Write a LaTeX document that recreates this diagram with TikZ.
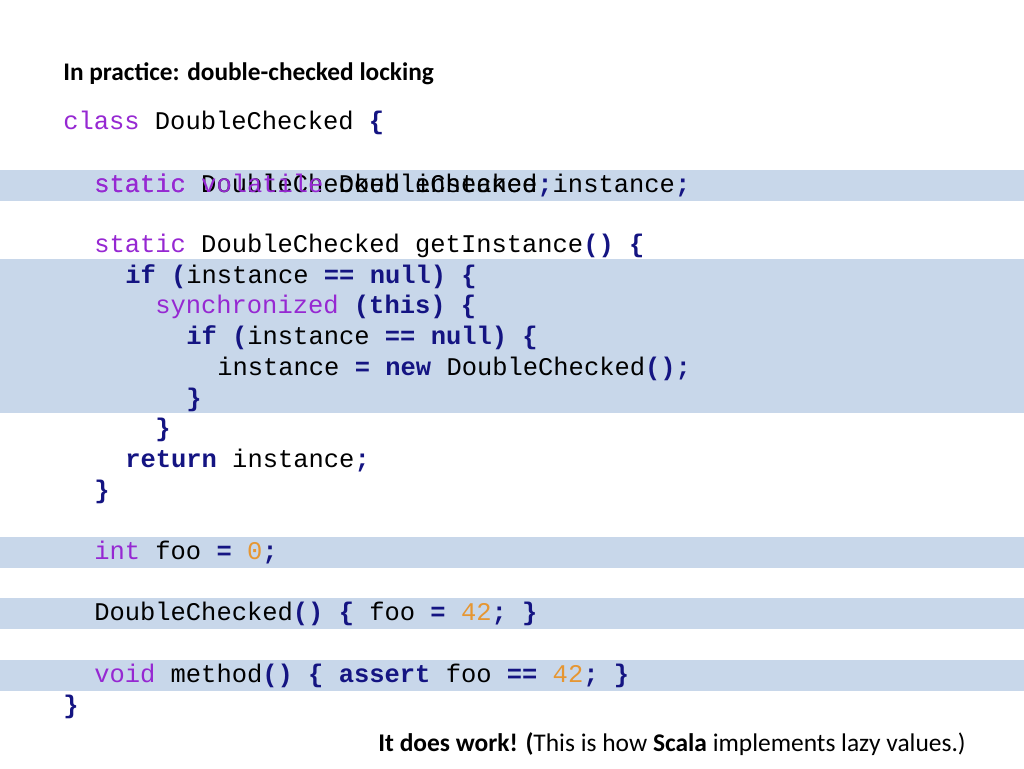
\documentclass[tikz,border=0pt]{standalone}
\usepackage{fontspec}
\setmainfont{Carlito}
\newfontfamily\code{Liberation Mono}
\definecolor{kwc}{RGB}{150,40,210}
\definecolor{bkc}{RGB}{20,20,130}
\definecolor{nmc}{RGB}{230,150,50}
\definecolor{band}{RGB}{200,215,234}
\newcommand{\kw}[1]{\textcolor{kwc}{#1}}
\newcommand{\bk}[1]{\textcolor{bkc}{\bfseries #1}}
\newcommand{\nm}[1]{\textcolor{nmc}{#1}}
\begin{document}
\begin{tikzpicture}[x=0.75pt,y=-0.75pt,
  cl/.style={anchor=base west,inner sep=0pt,font=\code\fontsize{19.1pt}{23pt}\selectfont}]
\useasboundingbox (0,0) rectangle (1024,768);
\fill[white] (0,0) rectangle (1024,768);
\foreach \a/\b in {170/201,259/413,537/568,598/629,660/691}
  \fill[band] (0,\a) rectangle (1024,\b);
\node[anchor=west,inner sep=0pt,font=\fontsize{19pt}{22pt}\selectfont\bfseries] (title) at (63,74) {In practice: double-checked locking};
\node[cl] (l1) at (63,129) {\kw{class} DoubleChecked \bk{\{}};
\node[cl] (l2a) at (94,192) {\kw{static} DoubleChecked instance\bk{;}};
\node[cl] (l2b) at (94,192) {\kw{static volatile} DoubleChecked instance\bk{;}};
\node[cl] (l3) at (94,252) {\kw{static} DoubleChecked getInstance\bk{() \{}};
\node[cl] (l4) at (125,283) {\bk{if (}instance \bk{== null) \{}};
\node[cl] (l5) at (155,313) {\kw{synchronized} \bk{(this) \{}};
\node[cl] (l6) at (186,344) {\bk{if (}instance \bk{== null) \{}};
\node[cl] (l7) at (217,375) {instance \bk{= new} DoubleChecked\bk{();}};
\node[cl] (l8) at (186,406) {\bk{\}}};
\node[cl] (l9) at (155,436) {\bk{\}}};
\node[cl] (l10) at (125,467) {\bk{return} instance\bk{;}};
\node[cl] (l11) at (94,498) {\bk{\}}};
\node[cl] (l12) at (94,559) {\kw{int} foo \bk{=} \nm{0}\bk{;}};
\node[cl] (l13) at (94,620) {DoubleChecked\bk{() \{} foo \bk{=} \nm{42}\bk{; \}}};
\node[cl] (l14) at (94,682) {\kw{void} method\bk{() \{ assert} foo \bk{==} \nm{42}\bk{; \}}};
\node[cl] (l15) at (63,713) {\bk{\}}};
\node[anchor=east,inner sep=0pt,font=\fontsize{19.1pt}{22pt}\selectfont] (note) at (966,744) {\textbf{It does work! (}This is how \textbf{Scala} implements lazy values.)};
\end{tikzpicture}
\end{document}
